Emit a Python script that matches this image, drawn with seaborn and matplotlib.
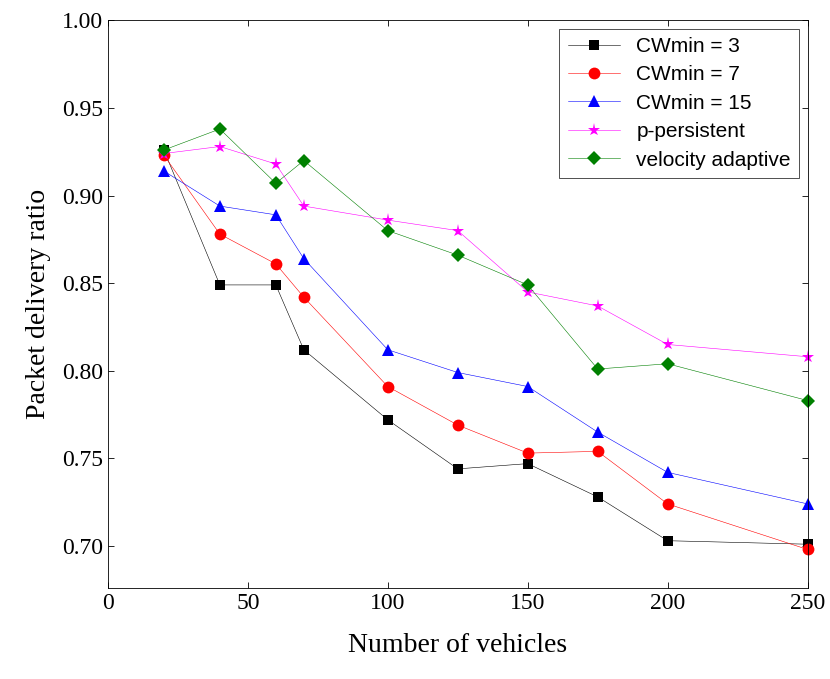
import matplotlib
matplotlib.use("Agg")
import matplotlib.pyplot as plt
import seaborn as sns
import pandas as pd

vehicles = [20, 40, 60, 70, 100, 125, 150, 175, 200, 250]
cw3 = [0.926, 0.849, 0.849, 0.812, 0.772, 0.744, 0.747, 0.728, 0.703, 0.701]
cw7 = [0.923, 0.878, 0.861, 0.842, 0.791, 0.769, 0.753, 0.754, 0.724, 0.698]
cw15 = [0.914, 0.894, 0.889, 0.864, 0.812, 0.799, 0.791, 0.765, 0.742, 0.724]
p_persistent = [0.924, 0.928, 0.918, 0.894, 0.886, 0.880, 0.845, 0.837, 0.815, 0.808]
velocity = [0.926, 0.938, 0.907, 0.920, 0.880, 0.866, 0.849, 0.801, 0.804, 0.783]

series = [
    ("CWmin = 3", cw3, "black", "s", 7.5),
    ("CWmin = 7", cw7, "red", "o", 8.5),
    ("CWmin = 15", cw15, "blue", "^", 8.5),
    ("p-persistent", p_persistent, "magenta", "*", 9.5),
    ("velocity adaptive", velocity, "green", "D", 7.5),
]

fig = plt.figure(figsize=(8.3, 6.79), dpi=100)
ax = fig.add_axes([0.130, 0.134, 0.843, 0.836])

for nombre, vals, color, marker, ms in series:
    df = pd.DataFrame({"x": vehicles, "y": vals})
    sns.lineplot(data=df, x="x", y="y", ax=ax, color=color, marker=marker,
                 markersize=ms, linewidth=0.4, markeredgewidth=0, label=nombre,
                 clip_on=False)

ax.set_xlim(0, 250)
ax.set_ylim(0.676, 1.0)
ax.set_xticks([0, 50, 100, 150, 200, 250])
ax.set_yticks([0.70, 0.75, 0.80, 0.85, 0.90, 0.95, 1.00])
ax.set_yticklabels([f"{v:.2f}" for v in ax.get_yticks()])
for lbl in ax.get_xticklabels() + ax.get_yticklabels():
    lbl.set_fontfamily("Liberation Serif")
    lbl.set_fontsize(17)
ax.tick_params(direction="in", length=4, width=0.6, top=True, right=True)
ax.set_xlabel("Number of vehicles", fontfamily="Liberation Serif", fontsize=20, labelpad=14)
ax.set_ylabel("Packet delivery ratio", fontfamily="Liberation Serif", fontsize=20, labelpad=8)
for s in ax.spines.values():
    s.set_linewidth(0.6)

leg = ax.legend(loc="upper right", prop={"family": "Liberation Sans", "size": 15},
                frameon=True, fancybox=False, edgecolor="black", borderaxespad=0.4,
                handlelength=2.5, labelspacing=0.45)
leg.get_frame().set_linewidth(0.6)

fig.savefig("out.png", dpi=100)
